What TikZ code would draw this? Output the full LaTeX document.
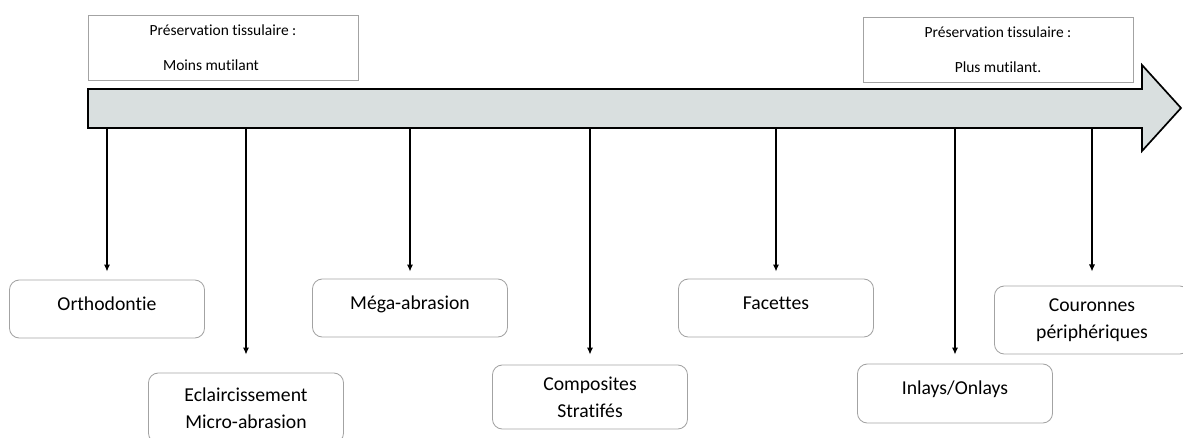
\documentclass[tikz,border=0pt]{standalone}
\usepackage{fontspec}
\setmainfont{Carlito}[Ligatures=NoCommon]
\usetikzlibrary{arrows.meta}

\definecolor{gristrait}{HTML}{A3A3A3}
\definecolor{grisfleche}{HTML}{D9DFDF}

\tikzset{
    axe/.style={draw=black, line width=1.2pt, fill=grisfleche, line join=miter},
    cadre/.style={draw=gristrait, line width=0.6pt, minimum width=6.75cm, minimum height=1.625cm,
        align=center, font=\fontsize{11}{25}\selectfont},
    boite/.style={draw=gristrait, line width=0.6pt, rounded corners=7pt, minimum width=4.875cm,
        align=center, font=\fontsize{14}{19}\selectfont},
    seul/.style={text height=10pt, text depth=8pt},
    lien/.style={-{Latex[length=5pt, width=4.5pt]}, line width=1pt}
}

\begin{document}
\begin{tikzpicture}[x=0.025cm, y=-0.025cm]
    % Cadre de la figure
    \clip (0,0) rectangle (1183,437);

    % Fleche principale
    \draw[axe] (88,89) -- (1142,89) -- (1142,65) -- (1181,108) -- (1142,151)
        -- (1142,128) -- (88,128) -- cycle;
    \coordinate (bas) at (88,128);

    % Encadres superieurs
    \node[cadre] (moins) at (223,48) {Préservation tissulaire :\\Moins mutilant\hspace*{0.6cm}};
    \node[cadre] (plus) at (998,50) {Préservation tissulaire :\\Plus mutilant.};

    % Techniques, rangee haute
    \node[boite, seul, minimum height=1.45cm] (ortho) at (107,309) {Orthodontie};
    \node[boite, seul, minimum height=1.45cm] (mega) at (410,308) {Méga-abrasion};
    \node[boite, seul, minimum height=1.45cm] (facettes) at (776,308) {Facettes};
    \node[boite, minimum height=1.7cm] (couronnes) at (1092,320) {Couronnes\\périphériques};

    % Techniques, rangee basse
    \node[boite, minimum height=1.75cm] (eclair) at (246,408) {Eclaircissement\\Micro-abrasion};
    \node[boite, minimum height=1.6cm] (compo) at (590,397) {Composites\\Stratifés};
    \node[boite, seul, minimum height=1.475cm] (inlays) at (955,393.5) {Inlays/Onlays};

    % Liens depuis la fleche
    \foreach \b/\r in {ortho/5.7pt, eclair/12.8pt, mega/5pt, compo/7.1pt,
                       facettes/5pt, inlays/6.4pt, couronnes/10pt}
        \draw[lien, shorten >=\r] (\b.north |- bas) -- (\b.north);
\end{tikzpicture}
\end{document}
